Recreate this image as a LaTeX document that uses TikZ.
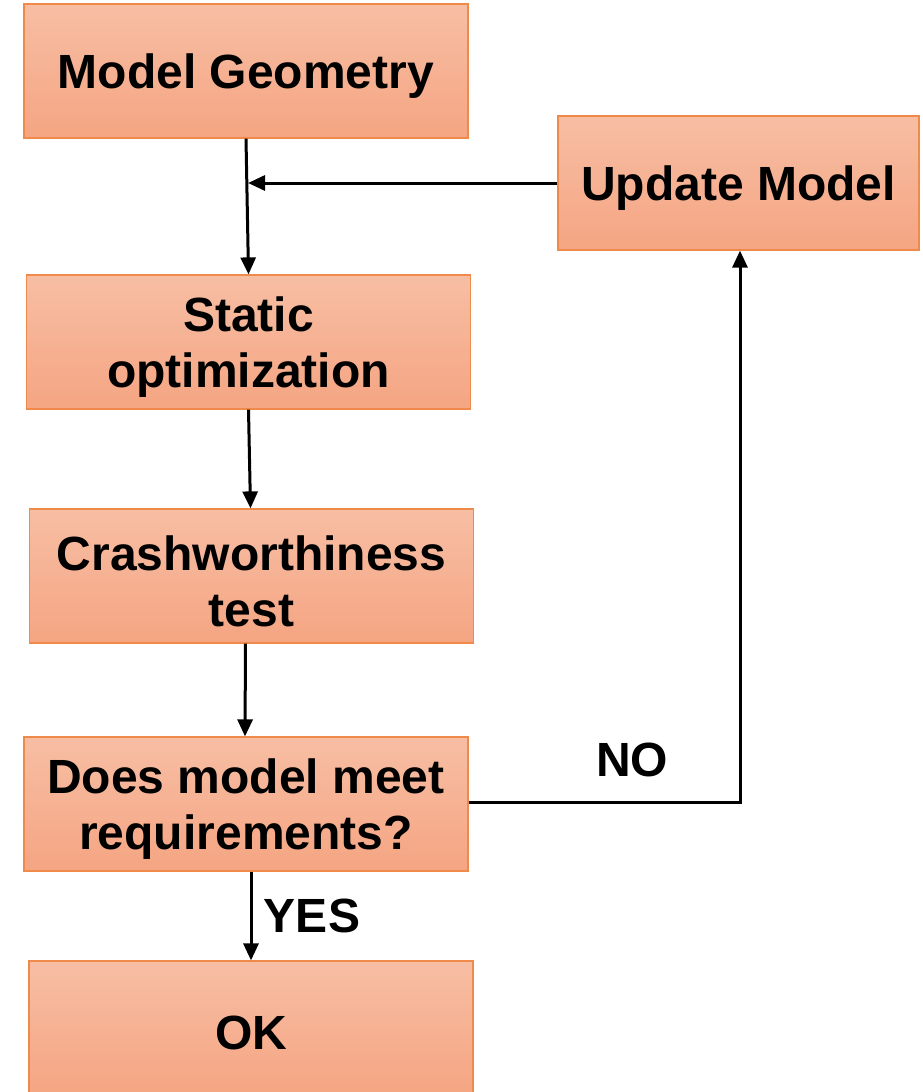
\documentclass[tikz,border=0pt]{standalone}
\usepackage{fontspec}
\setmainfont{Liberation Sans}
\usetikzlibrary{arrows.meta}
\begin{document}
\begin{tikzpicture}[x=1pt,y=-1pt,
  box/.style={draw=boxline, line width=1.2pt, top color=boxtop, bottom color=boxbot,
    minimum width=444pt, minimum height=134pt, inner sep=0pt},
  lab/.style={align=center, inner sep=0pt, font=\fontsize{48}{56}\selectfont\bfseries},
  txt/.style={lab, yshift=-5pt},
  conn/.style={line width=3pt, -{Triangle[width=15pt,length=17pt]}}]
\definecolor{boxtop}{HTML}{F7BEA4}
\definecolor{boxbot}{HTML}{F5A582}
\definecolor{boxline}{HTML}{F08A4A}
\useasboundingbox (0,0) rectangle (922,1092);
\node[box] (mg) at (246,71) {};
\node[box, minimum width=361pt] (um) at (738.5,183) {};
\node[box] (so) at (248.5,342) {};
\node[box] (cw) at (251.5,576) {};
\node[box] (dm) at (246,804) {};
\node[box] (ok) at (251,1028) {};
\node[txt] (tmg) at (mg) {Model Geometry};
\node[txt] (tum) at (um) {Update Model};
\node[txt] (tso) at (so) {Static\\optimization};
\node[txt] (tcw) at (cw) {Crashworthiness\\test};
\node[txt] (tdm) at (dm) {Does model meet\\requirements?};
\node[txt] (tok) at (ok) {OK};
\coordinate (j) at (248,183);
\coordinate (c) at (740,802);
\draw[conn] (mg.south) -- (so.north);
\draw[conn] (um.west) -- (j);
\draw[conn] (so.south) -- ([xshift=-1pt]cw.north);
\draw[conn] ([xshift=-6pt]cw.south) -- ([xshift=-1pt]dm.north);
\draw[conn] ([xshift=5pt]dm.south) -- (ok.north);
\draw[conn] (dm.east |- c) -- (c) -- (c |- um.south);
\node[lab] (no) at (632,760) {NO};
\node[lab] (yes) at (312,916) {YES};
\end{tikzpicture}
\end{document}
